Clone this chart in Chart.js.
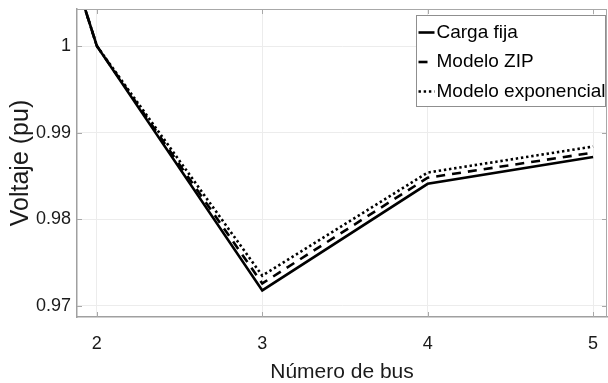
<!DOCTYPE html>
<html>
<head>
  <meta charset="UTF-8">
  <script src="https://cdn.jsdelivr.net/npm/chart.js"></script>
  <style>
    html, body { margin: 0; padding: 0; background: #fff; }
    .grafic_cont { width: 608px; height: 383px; }
  </style>
  <title>Voltaje por bus</title>
</head>
<body>
  <div class="grafic_cont">
    <canvas id="myChart"></canvas>
  </div>
  <script>
    // datos
    var buses = [1, 2, 3, 4, 5];
    var cargaFija = [1.06, 1.0, 0.9718, 0.9841, 0.9872];
    var modeloZIP = [1.06, 1.0, 0.9726, 0.9848, 0.9877];
    var modeloExp = [1.06, 1.0, 0.9735, 0.9854, 0.9884];
    var xTicks = [2, 3, 4, 5];
    var yTicks = [0.97, 0.98, 0.99, 1];

    var fuente = "'Liberation Sans', Arial, sans-serif";

    function puntos(vals) {
      return buses.map(function (b, i) { return { x: b, y: vals[i] }; });
    }

    // caja, marcas interiores y leyenda estilo matlab
    var cajaPlugin = {
      id: 'caja',
      afterDatasetsDraw: function (chart) {
        var ctx = chart.ctx;
        var a = chart.chartArea;
        var xs = chart.scales.x, ys = chart.scales.y;
        ctx.save();
        ctx.strokeStyle = '#a8a8a8';
        ctx.lineWidth = 1;
        ctx.beginPath();
        ctx.moveTo(a.left, a.top + 0.5);
        ctx.lineTo(a.right, a.top + 0.5);
        ctx.moveTo(a.right - 0.5, a.top);
        ctx.lineTo(a.right - 0.5, a.bottom);
        xTicks.forEach(function (v) {
          var px = Math.round(xs.getPixelForValue(v)) + 0.5;
          ctx.moveTo(px, a.bottom); ctx.lineTo(px, a.bottom - 5);
          ctx.moveTo(px, a.top); ctx.lineTo(px, a.top + 5);
        });
        yTicks.forEach(function (v) {
          var py = Math.round(ys.getPixelForValue(v)) + 0.5;
          ctx.moveTo(a.left, py); ctx.lineTo(a.left + 5, py);
          ctx.moveTo(a.right, py); ctx.lineTo(a.right - 5, py);
        });
        ctx.stroke();

        // leyenda
        var lx = a.right - 190.5, ly = a.top + 6.5, lw = 189, lh = 91;
        ctx.fillStyle = '#fff';
        ctx.fillRect(lx, ly, lw, lh);
        ctx.strokeStyle = '#8f8f8f';
        ctx.strokeRect(lx, ly, lw, lh);
        ctx.font = '19px ' + fuente;
        ctx.textBaseline = 'middle';
        ctx.textAlign = 'left';
        chart.data.datasets.forEach(function (ds, i) {
          var cy = ly + 17 + i * 29.5;
          ctx.strokeStyle = ds.borderColor;
          ctx.lineWidth = ds.borderWidth;
          ctx.setLineDash(ds.borderDash || []);
          ctx.beginPath();
          ctx.moveTo(lx + 2, cy);
          ctx.lineTo(lx + 18, cy);
          ctx.stroke();
          ctx.setLineDash([]);
          ctx.fillStyle = '#000';
          ctx.fillText(ds.label, lx + 20, cy);
        });
        ctx.restore();
      }
    };

    var ctx = document.getElementById('myChart').getContext('2d');
    var chart = new Chart(ctx, {
      type: 'line',
      data: {
        datasets: [{
          label: 'Carga fija',
          data: puntos(cargaFija),
          borderColor: '#000',
          borderWidth: 2.6,
          borderDash: []
        }, {
          label: 'Modelo ZIP',
          data: puntos(modeloZIP),
          borderColor: '#000',
          borderWidth: 2.6,
          borderDash: [9, 7]
        }, {
          label: 'Modelo exponencial',
          data: puntos(modeloExp),
          borderColor: '#000',
          borderWidth: 2.6,
          borderDash: [2.4, 2.8]
        }]
      },
      options: {
        responsive: true,
        maintainAspectRatio: false,
        animation: false,
        layout: { padding: { top: 9, right: 1, left: 0, bottom: 0 } },
        elements: {
          point: { radius: 0 },
          line: { tension: 0, fill: false }
        },
        plugins: {
          legend: { display: false },
          tooltip: { enabled: false }
        },
        scales: {
          x: {
            type: 'linear',
            min: 1.88,
            max: 5.084,
            afterBuildTicks: function (s) { s.ticks = xTicks.map(function (v) { return { value: v }; }); },
            afterFit: function (s) { s.height = 66; s.paddingLeft = 0; s.paddingRight = 0; },
            ticks: {
              padding: 16,
              color: '#1a1a1a',
              font: { family: fuente, size: 18 },
              callback: function (v) { return String(v); }
            },
            grid: { color: '#ececec', drawTicks: false },
            border: { color: '#a0a0a0', width: 1.5 },
            title: {
              display: true,
              text: 'Número de bus',
              color: '#1a1a1a',
              font: { family: fuente, size: 21 },
              padding: { top: 0, bottom: -2 }
            }
          },
          y: {
            min: 0.96873,
            max: 1.00427,
            afterBuildTicks: function (s) { s.ticks = yTicks.map(function (v) { return { value: v }; }); },
            afterFit: function (s) { s.width = 77; s.paddingTop = 0; s.paddingBottom = 0; },
            ticks: {
              padding: 6,
              color: '#1a1a1a',
              font: { family: fuente, size: 18 },
              callback: function (v) { return String(+v.toFixed(2)); }
            },
            grid: { color: '#ececec', drawTicks: false },
            border: { color: '#a0a0a0', width: 1.5 },
            title: {
              display: true,
              text: 'Voltaje (pu)',
              color: '#1a1a1a',
              font: { family: fuente, size: 25 },
              padding: { top: 6, bottom: 0 }
            }
          }
        }
      },
      plugins: [cajaPlugin]
    });
  </script>
</body>
</html>
